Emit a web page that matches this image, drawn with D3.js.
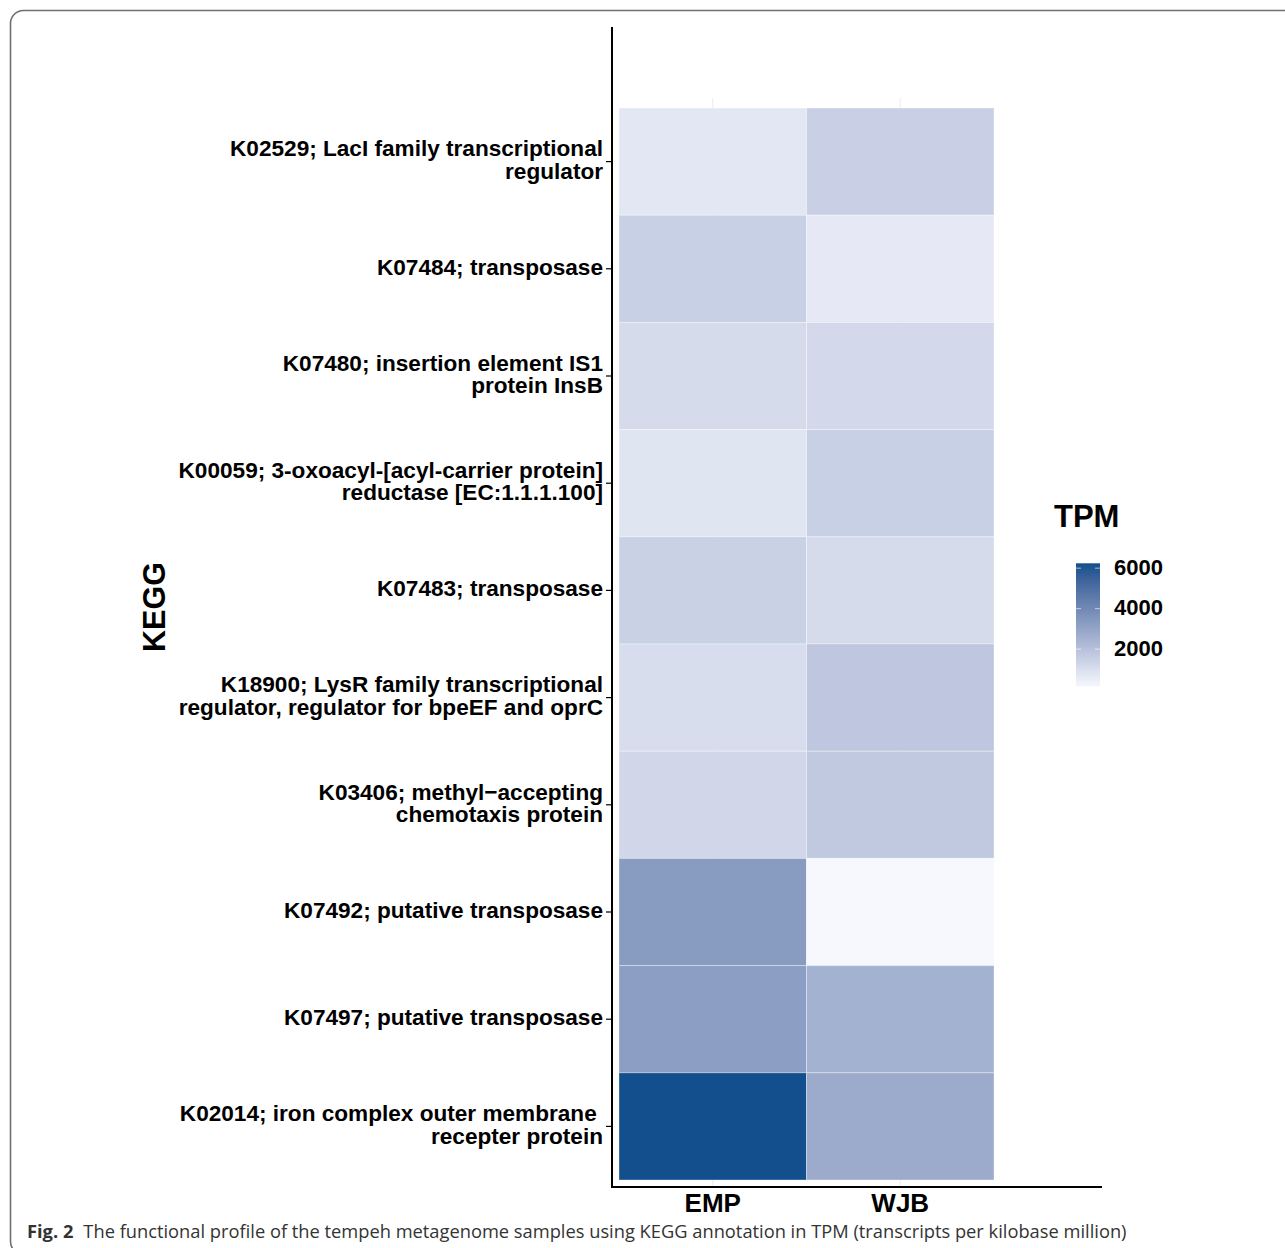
<!DOCTYPE html>
<html>
<head>
<meta charset="utf-8">
<script src="https://cdn.jsdelivr.net/npm/d3@7"></script>
<style>
  html, body { margin: 0; padding: 0; background: #ffffff; }
  svg { display: block; }
</style>
</head>
<body>
<svg id="chart" width="1285" height="1248"></svg>
<script>
// KEGG orthologues, top row first
const categories = [
  "K02529; LacI family transcriptional\nregulator",
  "K07484; transposase",
  "K07480; insertion element IS1\nprotein InsB",
  "K00059; 3-oxoacyl-[acyl-carrier protein]\nreductase [EC:1.1.1.100]",
  "K07483; transposase",
  "K18900; LysR family transcriptional\nregulator, regulator for bpeEF and oprC",
  "K03406; methyl\u2212accepting\nchemotaxis protein",
  "K07492; putative transposase",
  "K07497; putative transposase",
  "K02014; iron complex outer membrane\u00a0\nrecepter protein"
];
const samples = ["EMP", "WJB"];
// TPM per orthologue, same order as categories
const empTPM = [720, 1480, 1100, 790, 1450, 1030, 1240, 3350, 3220, 6240];
const wjbTPM = [1470, 640, 1170, 1480, 1100, 1780, 1710, 145, 2520, 2770];
const legendTicks = [2000, 4000, 6000];
const caption = { bold: "Fig. 2", rest: "The functional profile of the tempeh metagenome samples using KEGG annotation in TPM (transcripts per kilobase million)" };

const cells = [];
categories.forEach((c, i) => {
  cells.push({ kegg: c, sample: "EMP", value: empTPM[i] });
  cells.push({ kegg: c, sample: "WJB", value: wjbTPM[i] });
});

const svg = d3.select("#chart");
const boldFont = "'Liberation Sans', Arial, Helvetica, sans-serif";

// frame around the figure
svg.append("rect")
  .attr("x", 10.5).attr("y", 10.5)
  .attr("width", 1300).attr("height", 1244)
  .attr("rx", 13).attr("ry", 13)
  .attr("fill", "none").attr("stroke", "#707070").attr("stroke-width", 1.6);

const x = d3.scaleBand().domain(samples).range([619, 994]).padding(0);
const y = d3.scaleBand().domain(categories).range([108, 1180]).padding(0);

const vals = cells.map(d => d.value);
const color = d3.scaleLinear()
  .domain(d3.extent(vals))
  .range(["#f7f8fe", "#124f8c"])
  .interpolate(d3.interpolateLab);

// light vertical grid at column centres
const g = svg.append("g");
g.selectAll("line.grid").data(samples).join("line")
  .attr("class", "grid")
  .attr("x1", d => x(d) + x.bandwidth() / 2).attr("x2", d => x(d) + x.bandwidth() / 2)
  .attr("y1", 98).attr("y2", 1187)
  .attr("stroke", "#ebebeb").attr("stroke-width", 1);

// heatmap tiles
g.selectAll("rect.tile").data(cells).join("rect")
  .attr("class", "tile")
  .attr("x", d => x(d.sample)).attr("y", d => y(d.kegg))
  .attr("width", x.bandwidth()).attr("height", y.bandwidth())
  .attr("fill", d => color(d.value))
  .attr("stroke", "#ffffff").attr("stroke-opacity", 0.35).attr("stroke-width", 1);

// axis lines
svg.append("line").attr("x1", 612).attr("x2", 612).attr("y1", 27).attr("y2", 1188)
  .attr("stroke", "#000").attr("stroke-width", 2);
svg.append("line").attr("x1", 611).attr("x2", 1102).attr("y1", 1187).attr("y2", 1187)
  .attr("stroke", "#000").attr("stroke-width", 2);

// y axis ticks + multi-line labels
const yAxis = svg.append("g");
categories.forEach(c => {
  const cy = y(c) + y.bandwidth() / 2;
  yAxis.append("line").attr("x1", 606).attr("x2", 612).attr("y1", cy).attr("y2", cy)
    .attr("stroke", "#000").attr("stroke-width", 1.2);
  const lines = c.split("\n");
  const lh = 22.5;
  const t = yAxis.append("text")
    .attr("text-anchor", "end")
    .attr("font-family", boldFont).attr("font-weight", "bold")
    .attr("font-size", 22.6).attr("fill", "#000");
  lines.forEach((ln, k) => {
    t.append("tspan").attr("x", 603)
      .attr("y", cy + 6 + (k - (lines.length - 1) / 2) * lh)
      .text(ln);
  });
});

// x axis labels
svg.append("g").selectAll("text").data(samples).join("text")
  .attr("x", d => x(d) + x.bandwidth() / 2).attr("y", 1212)
  .attr("text-anchor", "middle")
  .attr("font-family", boldFont).attr("font-weight", "bold")
  .attr("font-size", 26).attr("fill", "#000")
  .text(d => d);

// y axis title
svg.append("text")
  .attr("transform", "translate(165,607) rotate(-90)")
  .attr("text-anchor", "middle")
  .attr("font-family", boldFont).attr("font-weight", "bold")
  .attr("font-size", 30.5).attr("fill", "#000")
  .text("KEGG");

// colour bar legend
const legendScale = d3.scaleLinear().domain(d3.extent(vals)).range([686.7, 563.3]);
const defs = svg.append("defs");
const grad = defs.append("linearGradient").attr("id", "tpmGrad")
  .attr("x1", 0).attr("x2", 0).attr("y1", 1).attr("y2", 0);
d3.range(0, 1.0001, 0.05).forEach(t => {
  grad.append("stop").attr("offset", t)
    .attr("stop-color", color(legendScale.domain()[0] + t * (legendScale.domain()[1] - legendScale.domain()[0])));
});
const lg = svg.append("g");
lg.append("rect").attr("x", 1076).attr("y", legendScale.range()[1])
  .attr("width", 24).attr("height", legendScale.range()[0] - legendScale.range()[1])
  .attr("fill", "url(#tpmGrad)");
legendTicks.forEach(v => {
  const ty = legendScale(v);
  lg.append("line").attr("x1", 1076).attr("x2", 1081).attr("y1", ty).attr("y2", ty)
    .attr("stroke", "#ffffff").attr("stroke-opacity", 0.6).attr("stroke-width", 1);
  lg.append("line").attr("x1", 1095).attr("x2", 1100).attr("y1", ty).attr("y2", ty)
    .attr("stroke", "#ffffff").attr("stroke-opacity", 0.6).attr("stroke-width", 1);
  lg.append("text").attr("x", 1114).attr("y", ty + 6.5)
    .attr("font-family", boldFont).attr("font-weight", "bold")
    .attr("font-size", 22).attr("fill", "#000")
    .text(v);
});
lg.append("text").attr("x", 1054).attr("y", 527)
  .attr("font-family", boldFont).attr("font-weight", "bold")
  .attr("font-size", 31).attr("fill", "#000")
  .text("TPM");

// caption
const cap = svg.append("text").attr("x", 27).attr("y", 1238)
  .attr("font-family", "'Open Sans', 'Noto Sans', sans-serif")
  .attr("font-size", 18.3).attr("fill", "#333");
cap.append("tspan").attr("font-weight", "bold").text(caption.bold);
cap.append("tspan").attr("dx", 10).text(caption.rest);
</script>
</body>
</html>
